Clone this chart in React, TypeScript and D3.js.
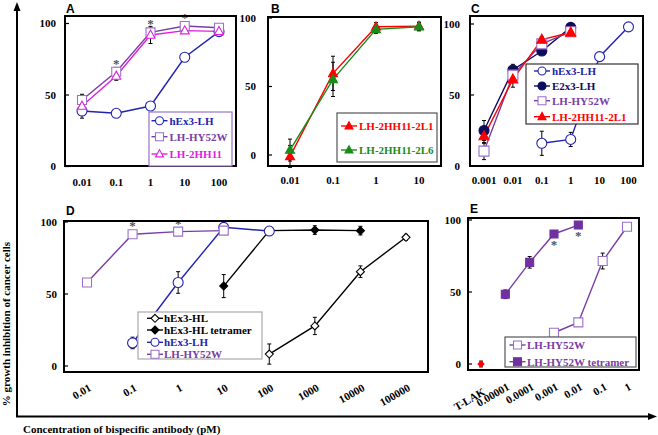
import React from "react";
import * as d3 from "d3";

// ---------- DATA ----------
// Panel A
const aConc = [0.01, 0.1, 1, 10, 100];
const aTickLabels = ["0.01", "0.1", "1", "10", "100"];
const aHex3LH = [38.8, 37.2, 42.3, 76.4, 94.3];
const aHex3LHErr = [5, 2, 2, 2, 1];
const aHY52W = [46.5, 66.3, 93.8, 98.2, 97];
const aHY52WErr = [4, 3, 3, 2, 1];
const a2HH11 = [42.3, 63.3, 92, 95, 94.5];
const a2HH11Err = [4, 3, 6, 2, 1];
const aStarConc = [0.1, 1, 10];

// Panel B
const bConc = [0.01, 0.1, 1, 10];
const bTickLabels = ["0.01", "0.1", "1", "10"];
const b2L1 = [-1, 59.6, 93.6, 94];
const b2L1Err = [8, 12.5, 3, 3];
const b2L6 = [3.6, 55.2, 91.7, 93.6];
const b2L6Err = [8, 12.5, 3, 3];

// Panel C
const cTickConc = [0.001, 0.01, 0.1, 1, 10, 100];
const cTickLabels = ["0.001", "0.01", "0.1", "1", "10", "100"];
const cHex3Conc = [0.1, 1, 10, 100];
const cHex3LH = [16, 18.7, 77, 98];
const cHex3LHErr = [8.5, 5, 3, 1];
const cConc = [0.001, 0.01, 0.1, 1];
const cE2x3LH = [25, 67.6, 81, 97.6];
const cE2x3LHErr = [7, 4, 2, 1];
const cHY52W = [10.5, 64, 86, 94.5];
const cHY52WErr = [6, 3, 2, 1];
const c2L1 = [21, 61, 89, 94];
const c2L1Err = [5, 5.5, 2, 1];

// Panel D
const dTickConc = [0.01, 0.1, 1, 10, 100, 1000, 10000, 100000];
const dTickLabels = ["0.01", "0.1", "1", "10", "100", "1000", "10000", "100000"];
const dHLConc = [100, 1000, 10000, 100000];
const dHex3HL = [8.3, 27.8, 65.5, 89.4];
const dHex3HLErr = [7, 6, 4, 2];
const dTetConc = [10, 100, 1000, 10000];
const dTetramer = [55.5, 94, 94.4, 94];
const dTetramerErr = [8, 2, 3, 3];
const dLHConc = [0.1, 1, 10, 100];
const dHex3LH = [16, 58, 96.3, 93.7];
const dHex3LHErr = [4, 7.5, 2, 3];
const dHYConc = [0.01, 0.1, 1, 10];
const dHY52W = [58, 91.5, 93.3, 94];
const dHY52WErr = [1, 2, 1, 1];
const dStarConc = [0.1, 1];

// Panel E (T-LAK placed one decade below 0.00001)
const eTickConc = [0.000001, 0.00001, 0.0001, 0.001, 0.01, 0.1, 1];
const eTickLabels = ["T-LAK", "0.00001", "0.0001", "0.001", "0.01", "0.1", "1"];
const eTLAKConc = [0.000001];
const eTLAK = [0];
const eTLAKErr = [2];
const eTetConc = [0.00001, 0.0001, 0.001, 0.01];
const eTetramer = [48.4, 70.6, 90.3, 96.5];
const eTetramerErr = [3, 4, 1, 1];
const eHYConc = [0.001, 0.01, 0.1, 1];
const eHY52W = [21.7, 28.9, 71.5, 95.3];
const eHY52WErr = [0, 0, 5.5, 1];
const eStarConc = [0.001, 0.01];

const yTicks = [0, 50, 100];

// ---------- STYLE ----------
const FONT = "Liberation Serif, Times New Roman, serif";
const BLUE = "#2323b0";
const NAVY = "#0d0d5e";
const PURPLE = "#7a3ca6";
const PURPLE_LIGHT = "#9a70c8";
const MAGENTA = "#e020e0";
const RED = "#ff0000";
const GREEN = "#1a8c1a";

type MarkerType = "circle" | "square" | "triangle" | "diamond";

interface Series {
  name: string;
  xs: number[];
  ys: number[];
  errs: number[];
  line: string;
  marker: MarkerType;
  fill: string;
  stroke: string;
  size: number;
  text: string;
}

function markerPath(t: MarkerType, x: number, y: number, s: number): string {
  const h = s / 2;
  if (t === "circle") {
    return `M${x - h},${y}A${h},${h} 0 1,0 ${x + h},${y}A${h},${h} 0 1,0 ${x - h},${y}Z`;
  }
  if (t === "square") {
    return `M${x - h},${y - h}H${x + h}V${y + h}H${x - h}Z`;
  }
  if (t === "triangle") {
    const th = s * 0.9;
    return `M${x},${y - th * 0.6}L${x + h},${y + th * 0.4}L${x - h},${y + th * 0.4}Z`;
  }
  return `M${x},${y - h}L${x + h},${y}L${x},${y + h}L${x - h},${y}Z`;
}

interface PanelProps {
  letter: string;
  letterX: number;
  letterY: number;
  frame: { x0: number; x1: number; y0: number; y1: number };
  x: d3.ScaleLogarithmic<number, number>;
  y: d3.ScaleLinear<number, number>;
  tickConc: number[];
  tickLabels: string[];
  rotated: boolean;
  labelY: number;
  yLabelX: number;
  series: Series[];
  legend: { x0: number; x1: number; y0: number; y1: number; border: string; rows: number[]; sx: number; tx: number };
  stars: { conc: number[]; base: number[]; dy: number };
}

function Panel(p: PanelProps) {
  const { frame, x, y } = p;
  const lineGen = d3
    .line<[number, number]>()
    .x((d) => x(d[0]))
    .y((d) => y(d[1]));
  return (
    <g>
      <text x={p.letterX} y={p.letterY} fontFamily="Liberation Sans, Arial, sans-serif" fontWeight="bold" fontSize={12}>
        {p.letter}
      </text>
      {/* y tick labels and ticks */}
      {yTicks.map((v) => (
        <g key={v}>
          <line x1={frame.x0} x2={frame.x0 + 4} y1={y(v)} y2={y(v)} stroke="#000" strokeWidth={1.2} />
          <text x={p.yLabelX} y={y(v)} dy="0.35em" textAnchor="end" fontFamily={FONT} fontWeight="bold" fontSize={11}>
            {v}
          </text>
        </g>
      ))}
      {/* x tick labels */}
      {p.tickConc.map((c, i) =>
        p.rotated ? (
          <text
            key={i}
            transform={`translate(${x(c) + 5},${p.tickLabels[i] === "T-LAK" ? p.labelY + 5 : p.labelY}) rotate(-30)`}
            textAnchor="end"
            fontFamily={FONT}
            fontWeight="bold"
            fontSize={11}
          >
            {p.tickLabels[i]}
          </text>
        ) : (
          <text key={i} x={x(c)} y={p.labelY} dy="0.35em" textAnchor="middle" fontFamily={FONT} fontWeight="bold" fontSize={11}>
            {p.tickLabels[i]}
          </text>
        )
      )}
      {/* lines */}
      {p.series.map((s, si) =>
        s.xs.length > 1 ? (
          <path
            key={si}
            d={lineGen(s.xs.map((c, i) => [c, s.ys[i]] as [number, number])) || ""}
            fill="none"
            stroke={s.line}
            strokeWidth={1.4}
          />
        ) : null
      )}
      {/* error bars */}
      {p.series.map((s, si) =>
        s.xs.map((c, i) =>
          s.errs[i] > 0 ? (
            <g key={`${si}-${i}`} stroke="#000" strokeWidth={1}>
              <line x1={x(c)} x2={x(c)} y1={y(s.ys[i] - s.errs[i])} y2={y(s.ys[i] + s.errs[i])} />
              <line x1={x(c) - 2} x2={x(c) + 2} y1={y(s.ys[i] - s.errs[i])} y2={y(s.ys[i] - s.errs[i])} />
              <line x1={x(c) - 2} x2={x(c) + 2} y1={y(s.ys[i] + s.errs[i])} y2={y(s.ys[i] + s.errs[i])} />
            </g>
          ) : null
        )
      )}
      {/* markers */}
      {p.series.map((s, si) =>
        s.xs.map((c, i) => (
          <path
            key={`m${si}-${i}`}
            d={markerPath(s.marker, x(c), y(s.ys[i]), s.size)}
            fill={s.fill}
            stroke={s.stroke}
            strokeWidth={1.1}
          />
        ))
      )}
      {/* stars */}
      {p.stars.conc.map((c, i) => (
        <text
          key={`st${i}`}
          x={x(c)}
          y={y(p.stars.base[i]) + p.stars.dy}
          textAnchor="middle"
          fontFamily={FONT}
          fontWeight="bold"
          fontSize={13}
          fill="#555"
        >
          *
        </text>
      ))}
      {/* frame */}
      <rect
        x={frame.x0}
        y={frame.y0}
        width={frame.x1 - frame.x0}
        height={frame.y1 - frame.y0}
        fill="none"
        stroke="#000"
        strokeWidth={2}
      />
      {/* legend */}
      <rect
        x={p.legend.x0}
        y={p.legend.y0}
        width={p.legend.x1 - p.legend.x0}
        height={p.legend.y1 - p.legend.y0}
        fill="#fff"
        stroke={p.legend.border}
        strokeWidth={1.2}
      />
      {p.series
        .filter((s) => s.name)
        .map((s, i) => {
          const ry = p.legend.rows[i];
          const sx = p.legend.sx;
          return (
            <g key={`lg${i}`}>
              <line x1={sx - 8} x2={sx + 8} y1={ry} y2={ry} stroke={s.line} strokeWidth={1.4} />
              <path d={markerPath(s.marker, sx, ry, Math.min(s.size, 8))} fill={s.fill} stroke={s.stroke} strokeWidth={1.1} />
              <text x={p.legend.tx} y={ry} dy="0.35em" fontFamily={FONT} fontWeight="bold" fontSize={11} fill={s.text}>
                {s.name}
              </text>
            </g>
          );
        })}
    </g>
  );
}

export default function App() {
  const W = 658;
  const H = 435;

  const ax = d3.scaleLog().domain([0.01, 100]).range([82, 219]);
  const ay = d3.scaleLinear().domain([0, 100]).range([166.5, 23.5]);
  const bx = d3.scaleLog().domain([0.01, 10]).range([290, 419]);
  const by = d3.scaleLinear().domain([0, 100]).range([155, 18]);
  const cx = d3.scaleLog().domain([0.001, 100]).range([484, 628.5]);
  const cy = d3.scaleLinear().domain([0, 100]).range([166, 24]);
  const dx = d3.scaleLog().domain([0.01, 100000]).range([87, 406]);
  const dy = d3.scaleLinear().domain([0, 100]).range([366, 222]);
  const ex = d3.scaleLog().domain([0.000001, 1]).range([481, 627]);
  const ey = d3.scaleLinear().domain([0, 100]).range([364, 220]);

  const aSeries: Series[] = [
    { name: "hEx3-LH", xs: aConc, ys: aHex3LH, errs: aHex3LHErr, line: BLUE, marker: "circle", fill: "#fff", stroke: BLUE, size: 10, text: BLUE },
    { name: "LH-HY52W", xs: aConc, ys: aHY52W, errs: aHY52WErr, line: PURPLE, marker: "square", fill: "#fff", stroke: PURPLE_LIGHT, size: 9, text: PURPLE },
    { name: "LH-2HH11", xs: aConc, ys: a2HH11, errs: a2HH11Err, line: MAGENTA, marker: "triangle", fill: "#fff", stroke: MAGENTA, size: 9, text: MAGENTA },
  ];
  const bSeries: Series[] = [
    { name: "LH-2HH11-2L1", xs: bConc, ys: b2L1, errs: b2L1Err, line: RED, marker: "triangle", fill: RED, stroke: RED, size: 9, text: RED },
    { name: "LH-2HH11-2L6", xs: bConc, ys: b2L6, errs: b2L6Err, line: GREEN, marker: "triangle", fill: GREEN, stroke: GREEN, size: 9, text: GREEN },
  ];
  const cSeries: Series[] = [
    { name: "hEx3-LH", xs: cHex3Conc, ys: cHex3LH, errs: cHex3LHErr, line: BLUE, marker: "circle", fill: "#fff", stroke: BLUE, size: 10, text: BLUE },
    { name: "E2x3-LH", xs: cConc, ys: cE2x3LH, errs: cE2x3LHErr, line: NAVY, marker: "circle", fill: NAVY, stroke: NAVY, size: 10, text: NAVY },
    { name: "LH-HY52W", xs: cConc, ys: cHY52W, errs: cHY52WErr, line: PURPLE, marker: "square", fill: "#fff", stroke: PURPLE_LIGHT, size: 10, text: PURPLE },
    { name: "LH-2HH11-2L1", xs: cConc, ys: c2L1, errs: c2L1Err, line: RED, marker: "triangle", fill: RED, stroke: RED, size: 10, text: RED },
  ];
  const dSeries: Series[] = [
    { name: "hEx3-HL", xs: dHLConc, ys: dHex3HL, errs: dHex3HLErr, line: "#000", marker: "diamond", fill: "#fff", stroke: "#000", size: 8, text: "#000" },
    { name: "hEx3-HL tetramer", xs: dTetConc, ys: dTetramer, errs: dTetramerErr, line: "#000", marker: "diamond", fill: "#000", stroke: "#000", size: 8, text: "#000" },
    { name: "hEx3-LH", xs: dLHConc, ys: dHex3LH, errs: dHex3LHErr, line: BLUE, marker: "circle", fill: "#fff", stroke: BLUE, size: 10, text: BLUE },
    { name: "LH-HY52W", xs: dHYConc, ys: dHY52W, errs: dHY52WErr, line: PURPLE, marker: "square", fill: "#fff", stroke: PURPLE_LIGHT, size: 9, text: PURPLE },
  ];
  const eSeries: Series[] = [
    { name: "LH-HY52W", xs: eHYConc, ys: eHY52W, errs: eHY52WErr, line: PURPLE, marker: "square", fill: "#fff", stroke: PURPLE_LIGHT, size: 9, text: PURPLE },
    { name: "LH-HY52W tetramer", xs: eTetConc, ys: eTetramer, errs: eTetramerErr, line: PURPLE, marker: "square", fill: "#7030a0", stroke: "#7030a0", size: 8, text: PURPLE },
    { name: "", xs: eTLAKConc, ys: eTLAK, errs: eTLAKErr, line: RED, marker: "diamond", fill: RED, stroke: RED, size: 6, text: RED },
  ];

  return (
    <svg width={W} height={H} style={{ position: "absolute", left: 0, top: 0, background: "#fff" }}>
      <rect x={0} y={0} width={W} height={H} fill="#fff" />
      <Panel
        letter="A"
        letterX={66}
        letterY={13}
        frame={{ x0: 65, x1: 236, y0: 16, y1: 166 }}
        x={ax}
        y={ay}
        tickConc={aConc}
        tickLabels={aTickLabels}
        rotated={false}
        labelY={182}
        yLabelX={56}
        series={aSeries}
        legend={{ x0: 149, x1: 232, y0: 112, y1: 166, border: "#9a70c8", rows: [120.7, 136.7, 154], sx: 159.5, tx: 169.5 }}
        stars={{ conc: aStarConc, base: [66.3, 93.8, 98.2], dy: -4 }}
      />
      <Panel
        letter="B"
        letterX={271}
        letterY={13}
        frame={{ x0: 268, x1: 441, y0: 17, y1: 166 }}
        x={bx}
        y={by}
        tickConc={bConc}
        tickLabels={bTickLabels}
        rotated={false}
        labelY={180}
        yLabelX={256}
        series={bSeries}
        legend={{ x0: 337, x1: 437, y0: 113, y1: 162, border: "#555", rows: [126, 150], sx: 349, tx: 359 }}
        stars={{ conc: [], base: [], dy: 0 }}
      />
      <Panel
        letter="C"
        letterX={471}
        letterY={13}
        frame={{ x0: 470, x1: 643, y0: 16, y1: 166 }}
        x={cx}
        y={cy}
        tickConc={cTickConc}
        tickLabels={cTickLabels}
        rotated={false}
        labelY={180}
        yLabelX={460}
        series={cSeries}
        legend={{ x0: 526, x1: 638, y0: 64, y1: 124, border: "#333", rows: [71, 86, 100.7, 116.7], sx: 542, tx: 552 }}
        stars={{ conc: [], base: [], dy: 0 }}
      />
      <Panel
        letter="D"
        letterX={66}
        letterY={215}
        frame={{ x0: 64, x1: 428, y0: 221, y1: 372 }}
        x={dx}
        y={dy}
        tickConc={dTickConc}
        tickLabels={dTickLabels}
        rotated={true}
        labelY={390}
        yLabelX={57}
        series={dSeries}
        legend={{ x0: 138, x1: 262, y0: 312, y1: 359, border: "#aaa", rows: [318.3, 330, 342.3, 354.3], sx: 155, tx: 164 }}
        stars={{ conc: dStarConc, base: [91.5, 93.3], dy: -4 }}
      />
      <Panel
        letter="E"
        letterX={470}
        letterY={213}
        frame={{ x0: 468, x1: 639, y0: 218, y1: 370 }}
        x={ex}
        y={ey}
        tickConc={eTickConc}
        tickLabels={eTickLabels}
        rotated={true}
        labelY={389}
        yLabelX={461}
        series={eSeries}
        legend={{ x0: 505, x1: 636, y0: 337, y1: 367, border: "#555", rows: [345, 361.7], sx: 517.5, tx: 527 }}
        stars={{ conc: eStarConc, base: [90.3, 96.5], dy: 15 }}
      />
      {/* outer axes with arrows */}
      <line x1={17} y1={416.5} x2={17} y2={8} stroke="#000" strokeWidth={2} />
      <path d="M17,2 L13.5,11 L20.5,11 Z" fill="#000" />
      <line x1={16} y1={416.5} x2={650} y2={416.5} stroke="#000" strokeWidth={2} />
      <path d="M657,416.5 L648,413 L648,420 Z" fill="#000" />
      <text
        transform="translate(10,324) rotate(-90)"
        textAnchor="middle"
        fontFamily={FONT}
        fontWeight="bold"
        fontSize={11}
      >
        % growth inhibition of cancer cells
      </text>
      <text x={23} y={433} fontFamily={FONT} fontWeight="bold" fontSize={11}>
        Concentration of bispecific antibody (pM)
      </text>
    </svg>
  );
}
